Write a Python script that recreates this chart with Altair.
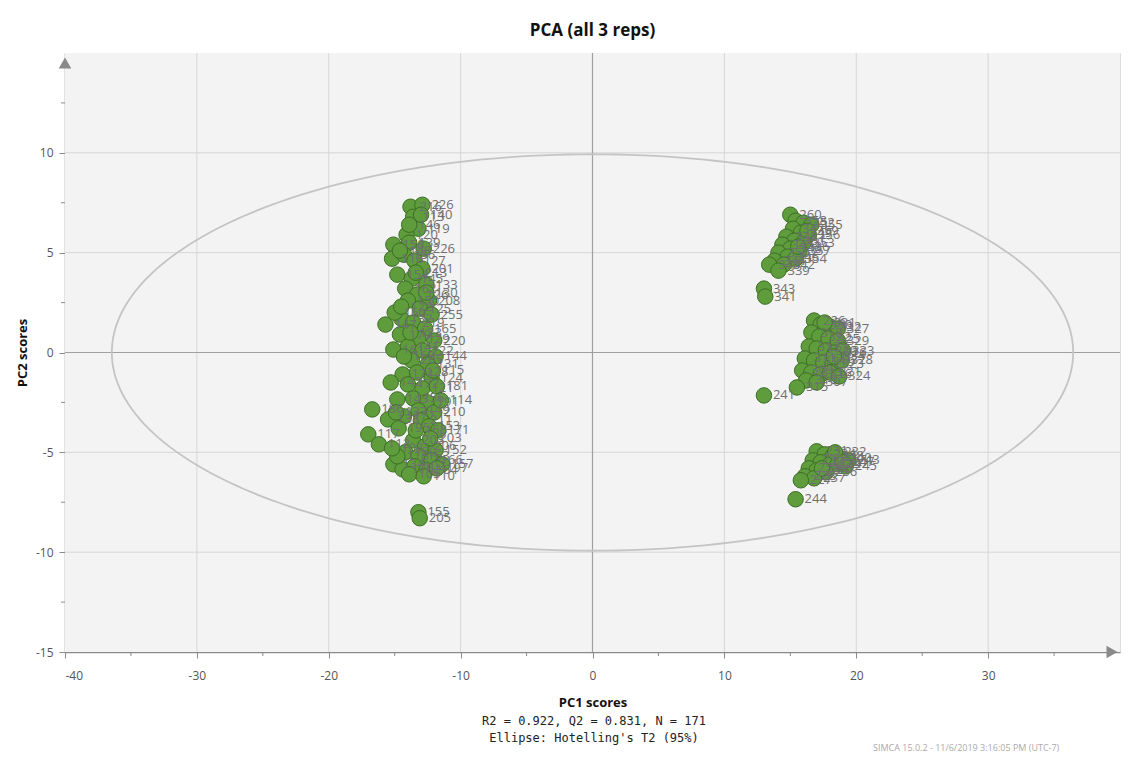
import math
import altair as alt
import pandas as pd

# ---- data ----
left_x = [-13.8,-12.9,-13.6,-13.2,-14.1,-15.1,-13.9,-12.8,-15.2,-14.3,-13.5,-12.9,-14.8,-13.7,-12.6,-14.2,-13.3,-12.4,-14.0,-13.1,
          -12.2,-15.7,-14.5,-13.6,-12.7,-14.6,-13.2,-12.0,-15.1,-14.0,-12.9,-11.9,-13.7,-12.5,-14.4,-13.3,-12.2,-14.0,-12.9,-11.8,
          -14.8,-13.6,-12.5,-16.7,-13.2,-12.0,-15.5,-14.3,-13.0,-12.4,-11.7,-14.7,-17.0,-16.2,-13.6,-12.7,-11.9,-14.2,-13.2,-12.2,
          -11.4,-15.1,-14.4,-13.5,-12.6,-11.8,-13.9,-13.2,-13.1,-13.0,-14.6,-13.4,-15.0,-14.3,-15.3,-14.9,-11.5,-12.3,-13.4,-12.8,
          -14.8,-13.9,-12.6,-14.5,-13.8,-12.1,-15.2]
left_y = [7.3,7.4,6.8,6.2,5.9,5.4,5.5,5.2,4.7,4.9,4.6,4.2,3.9,3.7,3.4,3.2,2.9,2.6,2.6,2.2,
          1.9,1.4,1.7,1.5,1.2,0.9,0.7,0.6,0.15,0.3,0.1,-0.2,-0.4,-0.6,-1.1,-1.0,-1.3,-1.6,-1.8,-1.7,
          -2.35,-2.3,-2.5,-2.85,-2.9,-3.0,-3.35,-3.2,-3.4,-3.7,-3.9,-3.8,-4.1,-4.6,-4.4,-4.7,-4.9,-5.0,-5.2,-5.4,
          -5.6,-5.6,-5.85,-5.7,-5.9,-5.8,-6.1,-8.0,-8.3,6.9,5.1,4.0,2.0,-0.2,-1.5,-3.0,-2.4,-4.3,-3.9,-6.2,
          -5.2,6.4,3.0,2.3,1.0,-0.9,-4.8]
left_lab = ["216","226","113","119","120","158","139","226","118","136","127","201","154","145","133","162","126","208","150","125",
            "255","147","132","219","165","170","129","220","161","141","222","144","205","131","174","128","124","172","121","181",
            "143","156","191","186","149","210","138","177","211","153","171","195","117","112","203","206","152","159","163","166",
            "157","134","176","102","164","197","105","155","205","140","148","213","160","169","142","137","114","203","168","110",
            "116","146","130","122","123","115","103"]

rt_x = [15.0,15.4,16.0,16.6,15.2,15.8,16.4,14.7,15.3,16.0,14.4,15.0,15.7,14.1,14.8,15.4,13.8,14.5,13.4,14.1,13.0,13.1,16.3,15.6]
rt_y = [6.9,6.6,6.5,6.4,6.2,6.0,5.9,5.8,5.6,5.5,5.4,5.2,5.1,5.0,4.8,4.7,4.6,4.4,4.4,4.1,3.2,2.8,6.1,5.3]
rt_lab = ["260","358","352","355","347","349","356","348","351","353","345","346","357","350","246","354","344","342","340","339","343","341","359","336"]

rm_x = [16.8,17.3,18.0,18.6,16.6,17.2,17.9,18.6,16.4,17.0,17.7,18.4,19.0,16.1,16.8,17.5,18.2,18.9,15.9,16.6,17.3,18.0,18.7,16.2,17.0,15.5,13.0,17.6,18.3]
rm_y = [1.6,1.4,1.3,1.2,1.0,0.8,0.7,0.6,0.3,0.2,0.1,0.0,0.1,-0.3,-0.4,-0.5,-0.6,-0.4,-0.9,-1.0,-1.1,-1.0,-1.2,-1.4,-1.5,-1.75,-2.15,1.5,-0.2]
rm_lab = ["226","330","332","327","318","322","325","329","312","317","320","326","333","311","314","319","323","328","309","313","316","321","324","310","307","315","241","331","334"]

rb_x = [17.0,17.6,18.2,18.8,19.4,16.7,17.3,18.0,18.6,19.2,16.4,17.0,17.7,16.1,16.8,15.8,15.4,18.4,19.0,17.4]
rb_y = [-4.95,-5.1,-5.2,-5.3,-5.4,-5.4,-5.5,-5.6,-5.6,-5.7,-5.8,-5.9,-6.0,-6.2,-6.3,-6.4,-7.35,-5.0,-5.5,-5.8]
rb_lab = ["231","234","238","240","243","230","235","239","242","245","229","233","236","228","237","227","244","232","247","225"]

xs = left_x + rt_x + rm_x + rb_x
ys = left_y + rt_y + rm_y + rb_y
labs = left_lab + rt_lab + rm_lab + rb_lab
n = min(len(xs), len(ys), len(labs))
pts = pd.DataFrame({"PC1": xs[:n], "PC2": ys[:n], "obs": labs[:n]})

x_ticks = [-40, -30, -20, -10, 0, 10, 20, 30]
y_ticks = [-15, -10, -5, 0, 5, 10]
x_grid = [-30, -20, -10, 10, 20, 30]
y_grid = [-10, -5, 5, 10]
x_minor = [-35, -25, -15, -5, 5, 15, 25, 35]
y_minor = [-12.5, -7.5, -2.5, 2.5, 7.5, 12.5]

ell_a = 36.45
ell_b = 9.93
steps = 240
ell = pd.DataFrame({
    "i": list(range(steps + 1)),
    "PC1": [ell_a * math.cos(2 * math.pi * k / steps) for k in range(steps + 1)],
    "PC2": [ell_b * math.sin(2 * math.pi * k / steps) for k in range(steps + 1)],
})

W, H = 1055, 599
FONT = "Open Sans"

xsc = alt.Scale(domain=[-40, 40], nice=False, zero=False)
ysc = alt.Scale(domain=[-15, 15], nice=False, zero=False)

xaxis = alt.Axis(values=x_ticks, title="PC1 scores", grid=False,
                 labelExpr="toString(datum.value)",
                 domainColor="#8a8a8a", domainWidth=1.5, tickColor="#8a8a8a", tickSize=6,
                 labelPadding=12, labelFontSize=12, labelColor="#555555", labelFont=FONT,
                 titleFont=FONT, titleFontSize=13, titleFontWeight="bold", titleColor="#111111",
                 titlePadding=15)
yaxis = alt.Axis(values=y_ticks, title="PC2 scores", grid=False,
                 labelExpr="toString(datum.value)",
                 domainColor="#8a8a8a", domainWidth=1.5, tickColor="#8a8a8a", tickSize=6,
                 labelPadding=6, labelFontSize=12, labelColor="#555555", labelFont=FONT,
                 titleFont=FONT, titleFontSize=13, titleFontWeight="bold", titleColor="#111111",
                 titlePadding=6)

bg = alt.Chart(pd.DataFrame({"k": [0]})).mark_rect(fill="#f3f3f3").encode(
    x=alt.value(0), x2=alt.value(W), y=alt.value(0), y2=alt.value(H)
)
grid_v = alt.Chart(pd.DataFrame({"v": x_grid})).mark_rule(color="#d6d6d6", strokeWidth=1).encode(
    x=alt.X("v:Q", scale=xsc, axis=xaxis)
)
grid_h = alt.Chart(pd.DataFrame({"v": y_grid})).mark_rule(color="#d6d6d6", strokeWidth=1).encode(
    y=alt.Y("v:Q", scale=ysc, axis=yaxis)
)

base_pts = alt.Chart(pts)

points = base_pts.mark_circle(size=240, fill="#5e9c3c", stroke="#3d6d27", strokeWidth=1, opacity=1).encode(
    x="PC1:Q", y="PC2:Q"
)
labels = base_pts.mark_text(align="left", baseline="middle", dx=9, fontSize=13, font=FONT, color="#6f6f6f").encode(
    x="PC1:Q", y="PC2:Q", text="obs:N"
)

zero_v = alt.Chart(pd.DataFrame({"v": [0]})).mark_rule(color="#a0a0a0", strokeWidth=1.2).encode(x="v:Q")
zero_h = alt.Chart(pd.DataFrame({"v": [0]})).mark_rule(color="#a0a0a0", strokeWidth=1.2).encode(y="v:Q")

ellipse = alt.Chart(ell).mark_line(color="#c4c4c4", strokeWidth=1.8).encode(
    x="PC1:Q", y="PC2:Q", order="i:Q"
)

minor_x = alt.Chart(pd.DataFrame({"v": x_minor})).mark_rule(color="#8a8a8a").encode(
    x="v:Q", y=alt.value(H), y2=alt.value(H + 4)
)
minor_y = alt.Chart(pd.DataFrame({"v": y_minor})).mark_rule(color="#8a8a8a").encode(
    y="v:Q", x=alt.value(-4), x2=alt.value(0)
)

arrow_x = alt.Chart(pd.DataFrame({"k": [0]})).mark_point(
    shape="triangle-right", filled=True, color="#8a8a8a", size=160, opacity=1
).encode(x=alt.value(W - 8), y=alt.value(H))
arrow_y = alt.Chart(pd.DataFrame({"k": [0]})).mark_point(
    shape="triangle-up", filled=True, color="#8a8a8a", size=160, opacity=1
).encode(x=alt.value(0), y=alt.value(10))

notes = pd.DataFrame({
    "t": ["R2 = 0.922, Q2 = 0.831, N = 171", "Ellipse: Hotelling's T2 (95%)"],
    "py": [H + 69, H + 86],
})
note_text = alt.Chart(notes).mark_text(
    font="DejaVu Sans Mono", fontSize=12, color="#222222", align="center", baseline="middle"
).encode(x=alt.value(529), y=alt.Y("py:Q", scale=None), text="t:N")

simca = alt.Chart(pd.DataFrame({"t": ["SIMCA 15.0.2 - 11/6/2019 3:16:05 PM (UTC-7)"]})).mark_text(
    font=FONT, fontSize=9, color="#aaaaaa", align="left", baseline="middle"
).encode(x=alt.value(808), y=alt.value(H + 96), text="t:N")

chart = alt.layer(
    bg, grid_v, grid_h, zero_v, zero_h, ellipse, points, labels, minor_x, minor_y, arrow_x, arrow_y, note_text, simca
).properties(
    width=W, height=H,
    title=alt.TitleParams("PCA (all 3 reps)", font=FONT, fontSize=17, fontWeight="bold",
                          color="#111111", anchor="middle", offset=12),
    autosize=alt.AutoSizeParams(type="none"),
    padding={"left": 57, "top": 45, "right": 19, "bottom": 100},
).configure_view(
    stroke=None
).configure(background="white")

chart.save("out.html", embed_options={"renderer": "svg", "actions": False})
